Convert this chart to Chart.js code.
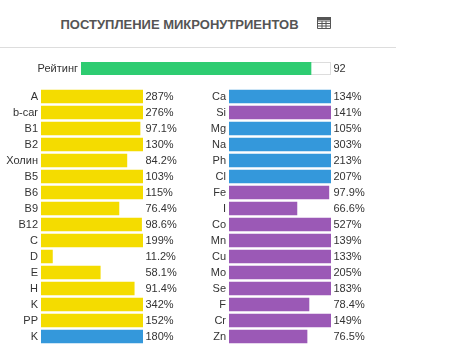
<!DOCTYPE html>
<html>
<head>
<meta charset="utf-8">
<title>Поступление микронутриентов</title>
<script src="https://cdn.jsdelivr.net/npm/chart.js@4"></script>
<style>
  html, body { margin: 0; padding: 0; background: #fff; }
  body { position: relative; width: 474px; height: 356px; overflow: hidden; font-family: "Liberation Sans", Arial, sans-serif; }
  h3 { position: absolute; left: 60.5px; top: 17px; margin: 0; font-size: 13px; line-height: 15px; font-weight: bold; color: #555; white-space: nowrap; }
  hr { position: absolute; left: 0; top: 47px; width: 396px; margin: 0; border: 0; border-top: 1px solid #ddd; }
  svg { position: absolute; left: 317px; top: 17px; }
  canvas { position: absolute; }
  #ratingChart { left: 0; top: 60px; }
  #leftChart { left: 0; top: 88px; }
  #rightChart { left: 190px; top: 88px; }
</style>
</head>
<body>
<h3>ПОСТУПЛЕНИЕ МИКРОНУТРИЕНТОВ</h3>
<svg width="14" height="12" viewBox="0 0 14 12">
  <path fill="none" stroke="#555" d="M.5.5h13v11H.5zM.5 4h13M.5 6.5h13M.5 9h13M5 4v7.5M9 4v7.5"/>
  <rect x="0" y="0" width="14" height="3" fill="#555"/>
</svg>
<hr>
<canvas id="ratingChart" width="380" height="17"></canvas>
<canvas id="leftChart" width="190" height="257"></canvas>
<canvas id="rightChart" width="190" height="257"></canvas>

<script>
const ratingLabels = ["Рейтинг"];
const ratingValues = [92];

const leftLabels = ["A", "b-car", "B1", "B2", "Холин", "B5", "B6", "B9", "B12", "C", "D", "E", "H", "K", "PP", "K"];
const leftValues = [287, 276, 97.1, 130, 84.2, 103, 115, 76.4, 98.6, 199, 11.2, 58.1, 91.4, 342, 152, 180];
const leftGroups = ["vit", "vit", "vit", "vit", "vit", "vit", "vit", "vit", "vit", "vit", "vit", "vit", "vit", "vit", "vit", "macro"];

const rightLabels = ["Ca", "Si", "Mg", "Na", "Ph", "Cl", "Fe", "I", "Co", "Mn", "Cu", "Mo", "Se", "F", "Cr", "Zn"];
const rightValues = [134, 141, 105, 303, 213, 207, 97.9, 66.6, 527, 139, 133, 205, 183, 78.4, 149, 76.5];
const rightGroups = ["macro", "micro", "macro", "macro", "macro", "macro", "micro", "micro", "micro", "micro", "micro", "micro", "micro", "micro", "micro", "micro"];

const groupColors = { vit: "#f4dc00", macro: "#3498db", micro: "#9b59b6", rating: "#2ecc71" };
const textColor = "#333";
const chartFont = { family: '"Liberation Sans", Arial, sans-serif', size: 11 };

// value text sits just right of the full bar track, whatever the value is
const valueLabels = {
  id: "valueLabels",
  afterDraw(chart, args, opts) {
    const ctx = chart.ctx;
    const meta = chart.getDatasetMeta(0);
    ctx.save();
    ctx.font = `${chartFont.size}px ${chartFont.family}`;
    ctx.fillStyle = textColor;
    ctx.textBaseline = "middle";
    chart.data.datasets[0].data.forEach((v, i) => {
      ctx.fillText(opts.format(v), chart.chartArea.right + 2.5, meta.data[i].y);
    });
    ctx.restore();
  },
};

// only the rating bar has an outlined track
const trackBorder = {
  id: "trackBorder",
  beforeDatasetsDraw(chart) {
    const a = chart.chartArea;
    const ctx = chart.ctx;
    ctx.save();
    ctx.strokeStyle = "#ddd";
    ctx.strokeRect(a.left + 0.5, a.top + 0.5, a.right - a.left - 1, a.bottom - a.top - 1);
    ctx.restore();
  },
};

function percentText(v) {
  return (v >= 100 ? Math.round(v) : v) + "%";
}

function makeBars(id, labels, values, colors, cfg) {
  return new Chart(document.getElementById(id), {
    type: "bar",
    data: {
      labels: labels,
      datasets: [{ data: values, backgroundColor: colors, barThickness: 13, borderWidth: 0 }],
    },
    options: {
      indexAxis: "y",
      responsive: false,
      animation: false,
      layout: { padding: cfg.padding },
      plugins: {
        legend: { display: false },
        tooltip: { enabled: false },
        valueLabels: { format: cfg.format },
      },
      scales: {
        x: { display: false, min: 0, max: 100 },
        y: {
          grid: { display: false, drawTicks: false },
          border: { display: false },
          ticks: { color: textColor, font: chartFont, padding: 3, autoSkip: false },
          afterFit: (scale) => {
            // fixed gutter, and no extra room for half a tick label above and below
            scale.width = cfg.axisWidth;
            scale.paddingTop = 0;
            scale.paddingBottom = 0;
          },
        },
      },
    },
    plugins: cfg.plugins,
  });
}

makeBars("ratingChart", ratingLabels, ratingValues, [groupColors.rating], {
  axisWidth: 81,
  padding: { top: 2, bottom: 2, right: 49 },
  format: (v) => String(v),
  plugins: [valueLabels, trackBorder],
});

makeBars("leftChart", leftLabels, leftValues, leftGroups.map((g) => groupColors[g]), {
  axisWidth: 41,
  padding: { top: 0.5, bottom: 0.5, right: 47 },
  format: percentText,
  plugins: [valueLabels],
});

makeBars("rightChart", rightLabels, rightValues, rightGroups.map((g) => groupColors[g]), {
  axisWidth: 39,
  padding: { top: 0.5, bottom: 0.5, right: 49 },
  format: percentText,
  plugins: [valueLabels],
});
</script>
</body>
</html>
